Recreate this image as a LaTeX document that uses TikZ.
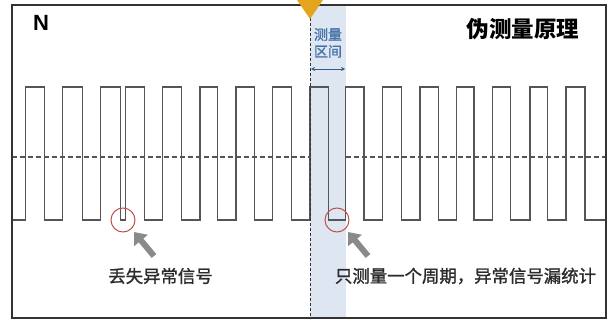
\documentclass[tikz,border=0pt]{standalone}
\usepackage{fontspec}
\setmainfont{Liberation Sans}
\newfontfamily\cjk{Noto Sans CJK SC}
\newfontfamily\cjkm[FakeBold=1.3]{Noto Sans CJK SC}
\usetikzlibrary{arrows.meta}
\definecolor{framec}{HTML}{333333}
\definecolor{wavec}{HTML}{555555}
\definecolor{bandc}{HTML}{DEE7F1}
\definecolor{triC}{HTML}{E3A51E}
\definecolor{blueT}{HTML}{4673A8}
\definecolor{blueA}{HTML}{2F5C8C}
\definecolor{ringc}{HTML}{C0504D}
\definecolor{arrc}{HTML}{8A8A8A}
\definecolor{txtc}{HTML}{2B2B2B}
\tikzset{
  frameline/.style={draw=framec, line width=1.5pt},
  wave/.style={draw=wavec, line width=1.3pt, line join=miter},
  midline/.style={draw=wavec, line width=1.3pt, dash pattern=on 5pt off 3pt},
  vdash/.style={draw=framec, line width=1pt, dash pattern=on 3pt off 2pt},
  ring/.style={circle, draw=ringc, line width=1pt, minimum size=24pt, inner sep=0pt},
  pointer/.style={draw=arrc, line width=6pt, -{Triangle[width=17pt,length=11pt]}},
  caption/.style={font=\cjkm\fontsize{17.4}{20}\selectfont, text=txtc, inner sep=0pt},
  bandlabel/.style={font=\cjkm\fontsize{14}{17}\selectfont, text=blueT, inner sep=0pt, align=center},
}
\begin{document}
\begin{tikzpicture}[x=1pt, y=-1pt]
\useasboundingbox (0,0) rectangle (609,320);
% measurement band
\fill[bandc] (310,5) rectangle (346,318);
% mid dashed line
\draw[midline] (12,157) -- (310,157);
\draw[midline] (346,157) -- (606,157);
% waveform
\draw[wave] (12,220)
  foreach \r/\f in {25.7/44.3, 62.7/82.3, 100.7/120.7, 125.3/144.3, 162.3/181.7, 200/217.3, 236/254.3, 272.7/291.7, 310/328.3, 345.7/364, 382.7/401.7, 420/438.3, 456.7/474, 492.7/510.7, 530/547.7, 566/585}
  { -- (\r,220) -- (\r,87) -- (\f,87) -- (\f,220) } -- (606,220);
% vertical dashed marker
\draw[vdash] (310,18) -- (310,318);
% frame
\draw[frameline] (12,5) rectangle (606,318);
% triangle marker
\fill[triC] (297,0) -- (323,0) -- (310,19) -- cycle;
% band label
\node[bandlabel] (bl) at (328,43) {测量\\区间};
\coordinate (dl) at (311,69);
\coordinate (dr) at (345,69);
\draw[blueA, line width=0.9pt, {Stealth[length=4pt,width=4pt]}-{Stealth[length=4pt,width=4pt]}] (dl) -- (dr);
% texts
\node[font=\bfseries\fontsize{22}{25}\selectfont, text=black, inner sep=0pt] (n) at (41,23) {N};
\node[font=\cjk\bfseries\fontsize{22.5}{26}\selectfont, text=black, inner sep=0pt] (title) at (523,29) {伪测量原理};
% rings
\node[ring] (c1) at (123,220) {};
\node[ring] (c2) at (337,220) {};
% pointers
\coordinate (p1) at (154,256);
\coordinate (h1) at (134,232);
\coordinate (p2) at (368,256);
\coordinate (h2) at (348,232);
\draw[pointer] (p1) -- (h1);
\draw[pointer] (p2) -- (h2);
% captions
\node[caption] (t1) at (160.5,276) {丢失异常信号};
\node[caption] (t2) at (465.5,276) {只测量一个周期，异常信号漏统计};
\end{tikzpicture}
\end{document}
